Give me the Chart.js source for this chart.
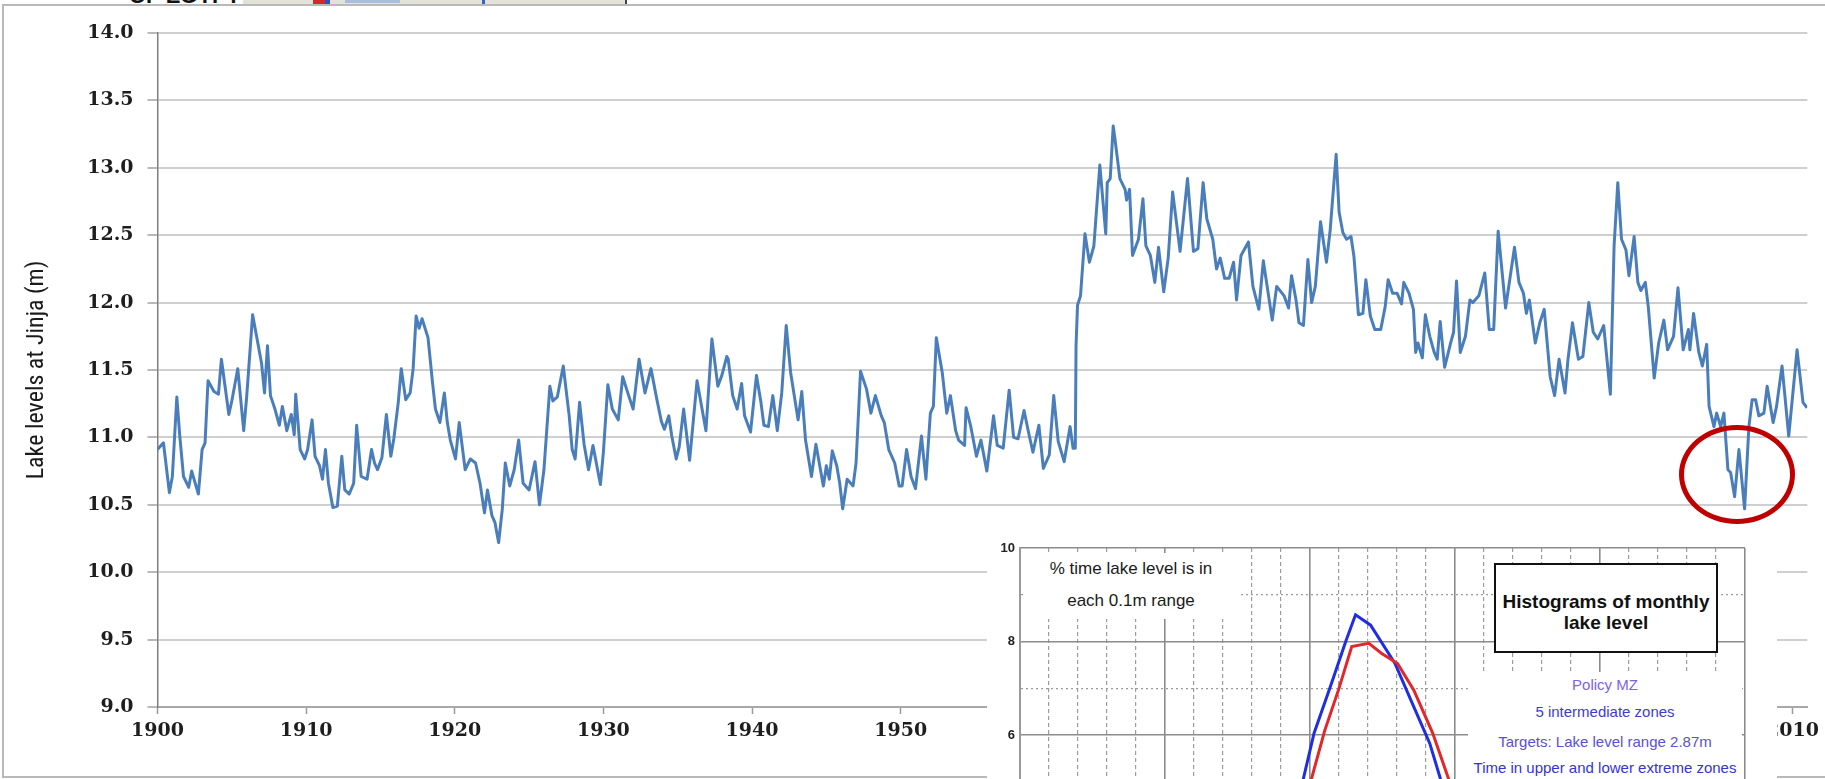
<!DOCTYPE html>
<html>
<head>
<meta charset="utf-8">
<script src="https://cdn.jsdelivr.net/npm/chart.js@4.4.1/dist/chart.umd.min.js"></script>
<style>
  html, body { margin: 0; padding: 0; background: #fff; width: 1825px; height: 779px; overflow: hidden; position: relative; }
  .abs { position: absolute; }
  #slideTitle { left: 129px; top: -15px; font: bold 22px 'Liberation Sans', Arial, sans-serif; line-height: 22px; color: #111; white-space: nowrap; }
  #mapStrip { left: 243px; top: 0; width: 382px; height: 4px; background: #e2e2d8; border-right: 2px solid #444; }
  #frame { left: 2px; top: 4px; width: 1860px; height: 774px; border: 2px solid #b9b9b9; box-sizing: border-box; }
  #main { left: 0; top: 0; background: transparent; }
  #inset { left: 987px; top: 533px; background: #fff; }
  .note { position: absolute; font-family: 'Liberation Sans', Arial, sans-serif; white-space: nowrap; text-align: center; }
  #rangeNote { left: 1024px; top: 553px; width: 214px; height: 66px; background: #fff; font-size: 17px; line-height: 32px; color: #1a1a1a; }
  #histBox { left: 1494px; top: 563px; width: 224px; height: 90px; border: 2px solid #111; box-sizing: border-box; background: #fff; font-weight: bold; font-size: 19px; line-height: 21px; padding-top: 26px; color: #111; }
  #policyBlock { left: 1468px; top: 672px; width: 274px; height: 120px; background: #fff; }
  .pline { position: absolute; left: 0; width: 274px; font-size: 15px; line-height: 20px; text-align: center; }
  #mark { left: 1679px; top: 425px; width: 116px; height: 99px; border: 5px solid #c00000; border-radius: 50%; box-sizing: border-box; }
</style>
</head>
<body>
<div id="slideTitle" class="abs">OF EGYPT</div>
<div id="mapStrip" class="abs"></div>
<div class="abs" style="left:313px;top:0;width:12px;height:4px;background:#d42a2a"></div>
<div class="abs" style="left:325px;top:0;width:5px;height:4px;background:#2b4fc9"></div>
<div class="abs" style="left:345px;top:0;width:55px;height:3px;background:#a9bedf"></div>
<div class="abs" style="left:482px;top:0;width:3px;height:4px;background:#3a5fcf"></div>
<div id="frame" class="abs"></div>
<canvas id="main" class="abs" width="1825" height="779"></canvas>
<canvas id="inset" class="abs" width="790" height="500"></canvas>
<div id="rangeNote" class="note">% time lake level is in<br>each 0.1m range</div>
<div id="histBox" class="note">Histograms of monthly<br>lake level</div>
<div id="policyBlock" class="abs">
  <div class="note pline" style="top:3px;color:#7f62e6">Policy MZ</div>
  <div class="note pline" style="top:30px;color:#3c3ccf">5 intermediate zones</div>
  <div class="note pline" style="top:60px;color:#5a50d6">Targets: Lake level range 2.87m</div>
  <div class="note pline" style="top:86px;color:#3434d4">Time in upper and lower extreme zones</div>
</div>
<div id="mark" class="abs"></div>
<script>
// Lake Victoria levels at Jinja, read per decade (decimal year, metres)
const years1900s = [1900.0,1900.4,1900.8,1901.0,1901.3,1901.5,1901.75,1902.1,1902.3,1902.75,1903.0,1903.2,1903.4,1903.8,1904.1,1904.3,1904.8,1905.0,1905.4,1905.8,1906.0,1906.4,1906.7,1907.0,1907.2,1907.4,1907.6,1907.9,1908.2,1908.4,1908.7,1909.0,1909.2,1909.3,1909.6,1909.9];
const levels1900s = [10.91,10.96,10.59,10.71,11.30,11.01,10.71,10.63,10.75,10.58,10.91,10.96,11.42,11.34,11.32,11.58,11.17,11.27,11.51,11.05,11.30,11.91,11.73,11.55,11.33,11.68,11.31,11.21,11.09,11.23,11.05,11.17,11.02,11.32,10.91,10.84];

const years1910s = [1910.1,1910.4,1910.6,1910.9,1911.1,1911.3,1911.5,1911.8,1912.1,1912.4,1912.6,1912.9,1913.2,1913.4,1913.7,1914.1,1914.4,1914.6,1914.8,1915.1,1915.4,1915.7,1915.9,1916.2,1916.4,1916.7,1917.0,1917.2,1917.4,1917.6,1917.8,1918.2,1918.5,1918.7,1919.0,1919.3,1919.5,1919.7];
const levels1910s = [10.91,11.13,10.86,10.79,10.69,10.91,10.66,10.48,10.49,10.86,10.61,10.58,10.66,11.09,10.71,10.69,10.91,10.81,10.76,10.85,11.17,10.86,10.99,11.26,11.51,11.28,11.33,11.51,11.90,11.81,11.88,11.74,11.41,11.21,11.11,11.33,11.11,10.98];

const years1920s = [1920.05,1920.3,1920.7,1921.05,1921.4,1921.7,1922.0,1922.2,1922.5,1922.7,1922.95,1923.2,1923.4,1923.7,1924.0,1924.3,1924.6,1925.0,1925.4,1925.7,1926.0,1926.4,1926.6,1926.9,1927.3,1927.7,1927.9,1928.1,1928.4,1928.7,1929.0,1929.3,1929.8];
const levels1920s = [10.84,11.11,10.76,10.84,10.81,10.66,10.44,10.61,10.42,10.37,10.22,10.47,10.81,10.64,10.76,10.98,10.66,10.61,10.82,10.50,10.76,11.38,11.27,11.30,11.53,11.16,10.91,10.84,11.26,10.95,10.76,10.94,10.65];

const years1930s = [1930.0,1930.3,1930.6,1931.0,1931.3,1931.7,1932.0,1932.4,1932.8,1933.2,1933.6,1933.9,1934.1,1934.4,1934.6,1934.9,1935.1,1935.4,1935.8,1936.3,1936.9,1937.3,1937.7,1937.97,1938.3,1938.4,1938.7,1939.0,1939.3,1939.5,1939.9];
const levels1930s = [10.89,11.39,11.21,11.13,11.45,11.31,11.21,11.58,11.33,11.51,11.28,11.12,11.06,11.16,11.01,10.84,10.93,11.21,10.83,11.42,11.05,11.73,11.38,11.46,11.60,11.58,11.31,11.21,11.40,11.16,11.04];

const years1940s = [1940.3,1940.6,1940.8,1941.1,1941.4,1941.7,1942.0,1942.3,1942.6,1943.1,1943.35,1943.6,1944.0,1944.3,1944.8,1945.0,1945.2,1945.4,1945.7,1945.9,1946.1,1946.4,1946.8,1947.0,1947.3,1947.7,1948.0,1948.3,1948.7,1948.9,1949.2,1949.6,1949.9];
const levels1940s = [11.46,11.26,11.09,11.08,11.31,11.05,11.33,11.83,11.48,11.13,11.34,10.98,10.71,10.95,10.64,10.79,10.69,10.90,10.79,10.66,10.47,10.69,10.64,10.81,11.49,11.36,11.18,11.31,11.16,11.11,10.91,10.81,10.64];

const years1950s = [1950.1,1950.4,1950.7,1951.0,1951.4,1951.7,1952.0,1952.2,1952.4,1952.8,1953.1,1953.35,1953.7,1953.9,1954.3,1954.4,1954.7,1955.1,1955.4,1955.8,1956.25,1956.5,1956.9,1957.3,1957.6,1957.9,1958.3,1958.6,1958.9,1959.3,1959.6];
const levels1950s = [10.64,10.91,10.71,10.62,11.01,10.69,11.18,11.23,11.74,11.48,11.18,11.31,11.05,10.98,10.94,11.22,11.09,10.86,10.98,10.75,11.16,10.94,10.92,11.35,11.00,10.99,11.20,11.04,10.89,11.09,10.77];

const years1960s = [1960.0,1960.3,1960.6,1961.0,1961.4,1961.6,1961.75,1961.8,1961.9,1962.1,1962.4,1962.7,1963.0,1963.4,1963.8,1963.9,1964.1,1964.3,1964.4,1964.75,1965.1,1965.2,1965.4,1965.6,1966.0,1966.3,1966.5,1966.8,1967.1,1967.35,1967.7,1968.0,1968.3,1968.8,1969.3,1969.7];
const levels1960s = [10.87,11.31,10.97,10.82,11.08,10.92,10.92,11.68,11.98,12.05,12.51,12.30,12.42,13.02,12.51,12.89,12.92,13.31,13.23,12.92,12.84,12.76,12.84,12.35,12.47,12.77,12.42,12.35,12.15,12.41,12.08,12.33,12.82,12.38,12.92,12.38];

const years1970s = [1970.0,1970.35,1970.6,1971.0,1971.25,1971.5,1971.8,1972.1,1972.4,1972.6,1972.9,1973.4,1973.7,1974.1,1974.4,1975.0,1975.3,1975.8,1976.1,1976.3,1976.6,1976.8,1977.1,1977.4,1977.65,1977.9,1978.25,1978.65,1978.9,1979.3,1979.5,1979.75];
const levels1970s = [12.40,12.89,12.62,12.47,12.25,12.33,12.18,12.18,12.30,12.02,12.35,12.45,12.12,11.95,12.31,11.87,12.12,12.05,11.96,12.20,12.02,11.85,11.83,12.32,12.00,12.12,12.60,12.30,12.54,13.10,12.67,12.52];

const years1980s = [1980.0,1980.3,1980.5,1980.8,1981.1,1981.3,1981.6,1981.9,1982.3,1982.6,1982.8,1983.1,1983.4,1983.7,1983.85,1984.2,1984.5,1984.65,1984.8,1985.1,1985.3,1985.6,1985.9,1986.1,1986.3,1986.6,1987.0,1987.2,1987.4,1987.65,1988.0,1988.3,1988.5,1988.9,1989.3,1989.6,1989.9];
const levels1980s = [12.47,12.49,12.34,11.91,11.92,12.17,11.90,11.80,11.80,11.97,12.17,12.07,12.07,11.99,12.15,12.07,11.95,11.63,11.70,11.59,11.91,11.75,11.63,11.58,11.86,11.52,11.70,11.78,12.16,11.63,11.75,12.02,12.00,12.05,12.22,11.80,11.80];

const years1990s = [1990.2,1990.7,1991.3,1991.6,1991.9,1992.1,1992.3,1992.7,1993.0,1993.3,1993.7,1994.0,1994.3,1994.7,1994.9,1995.2,1995.6,1995.9,1996.3,1996.6,1996.9,1997.3,1997.75,1998.0,1998.25,1998.5,1998.8,1999.0,1999.35,1999.6,1999.8];
const levels1990s = [12.53,11.96,12.41,12.15,12.07,11.92,12.02,11.70,11.85,11.95,11.45,11.31,11.58,11.33,11.58,11.85,11.58,11.60,12.00,11.78,11.73,11.83,11.32,12.42,12.89,12.47,12.39,12.20,12.49,12.15,12.09];

const years2000s = [2000.1,2000.3,2000.7,2001.0,2001.35,2001.6,2002.0,2002.3,2002.65,2003.0,2003.1,2003.35,2003.7,2003.94,2004.23,2004.39,2004.72,2004.9,2005.17,2005.39,2005.66,2005.84,2006.11,2006.4,2006.78,2007.07,2007.29,2007.52,2007.74,2008.08,2008.3,2008.7,2008.93,2009.3,2009.75,2010.31,2010.71,2010.98];
const levels2000s = [12.15,11.97,11.44,11.70,11.87,11.65,11.75,12.11,11.65,11.80,11.65,11.92,11.63,11.53,11.69,11.23,11.08,11.18,11.08,11.18,10.76,10.74,10.56,10.91,10.47,11.08,11.28,11.28,11.16,11.18,11.38,11.11,11.23,11.53,11.01,11.65,11.26,11.22];

// Axis tick values
const decadeTicks = [1900,1910,1920,1930,1940,1950,1960,1970,1980,1990,2000,2010];
const levelTicks = [9.0,9.5,10.0,10.5,11.0,11.5,12.0,12.5,13.0,13.5,14.0];

// Histogram of monthly lake level: bin position (0.1 m steps) and % of time
const redBins = [8.5,9.4,10.05,10.51,10.98,11.44,12.03,12.46,13.02,13.58,14.23,14.78,15.4,16.2,17.2];
const redPct  = [1.6,3.6,5.06,6.10,6.96,7.89,7.96,7.75,7.53,6.96,6.04,5.06,3.8,2.2,0.9];
const blueBins = [8.0,9.0,9.77,10.14,10.70,11.25,11.57,12.09,12.93,13.58,14.13,14.5,15.2,16.0,17.0];
const bluePct  = [1.6,3.6,5.06,6.04,7.03,8.03,8.57,8.35,7.53,6.60,5.82,5.06,3.8,2.2,0.9];

const years = [].concat(years1900s, years1910s, years1920s, years1930s, years1940s, years1950s, years1960s, years1970s, years1980s, years1990s, years2000s);
const levels = [].concat(levels1900s, levels1910s, levels1920s, levels1930s, levels1940s, levels1950s, levels1960s, levels1970s, levels1980s, levels1990s, levels2000s);

const tickFont = { family: "'DejaVu Serif', serif", weight: 'bold', size: 19 };

new Chart(document.getElementById('main'), {
  type: 'line',
  data: {
    datasets: [{
      data: years.map((y, i) => ({ x: y, y: levels[i] })),
      borderColor: '#4a7ebb',
      borderWidth: 3,
      borderJoinStyle: 'round',
      pointRadius: 0,
      tension: 0,
      fill: false
    }]
  },
  options: {
    responsive: false,
    animation: false,
    devicePixelRatio: 1,
    layout: { padding: { left: 23, right: 13, top: 33, bottom: 0 } },
    plugins: { legend: { display: false }, tooltip: { enabled: false } },
    scales: {
      x: {
        type: 'linear',
        min: 1900,
        max: 2011,
        afterBuildTicks: s => { s.ticks = decadeTicks.map(v => ({ value: v })); },
        afterFit: s => { s.height = 72; },
        ticks: { callback: v => String(v), font: tickFont, color: '#1e1e1e', padding: 6, maxRotation: 0, autoSkip: false },
        grid: { drawOnChartArea: false, drawTicks: true, tickLength: 7, tickColor: '#9a9a9a', tickWidth: 1.5 },
        border: { color: '#a8a8a8', width: 2 }
      },
      y: {
        min: 9,
        max: 14,
        afterBuildTicks: s => { s.ticks = levelTicks.map(v => ({ value: v })); },
        afterFit: s => { s.width = 134.5; },
        ticks: { callback: v => Number(v).toFixed(1), font: tickFont, color: '#1e1e1e', padding: 14 },
        grid: { color: '#cfcfcf', lineWidth: 2, tickLength: 10, tickColor: '#a0a0a0', tickWidth: 1.5 },
        border: { color: '#7f7f7f', width: 1.5 },
        title: {
          display: true,
          text: 'Lake levels at Jinja (m)',
          font: { family: "'Liberation Sans Narrow', 'Arial Narrow', 'Roboto Condensed', 'Liberation Sans', sans-serif", size: 24 },
          color: '#1a1a1a',
          padding: { top: 0, bottom: 0 }
        }
      }
    }
  }
});

new Chart(document.getElementById('inset'), {
  type: 'line',
  data: {
    datasets: [
      { data: redBins.map((b, i) => ({ x: b, y: redPct[i] })), borderColor: '#e3262a', borderWidth: 3, pointRadius: 0, tension: 0, fill: false },
      { data: blueBins.map((b, i) => ({ x: b, y: bluePct[i] })), borderColor: '#1f2ee0', borderWidth: 3, pointRadius: 0, tension: 0, fill: false }
    ]
  },
  options: {
    responsive: false,
    animation: false,
    devicePixelRatio: 1,
    layout: { padding: { left: 0, right: 32, top: 15, bottom: 0 } },
    plugins: { legend: { display: false }, tooltip: { enabled: false } },
    scales: {
      x: {
        type: 'linear',
        min: 0,
        max: 25,
        afterFit: s => { s.height = 17.5; },
        ticks: { stepSize: 1, display: false },
        grid: {
          drawTicks: false,
          color: c => (c.tick && c.tick.value % 5 === 0) ? '#8c8c8c' : '#9c9c9c',
          lineWidth: c => (c.tick && c.tick.value % 5 === 0) ? 1.6 : 1.2
        },
        border: { display: false, dash: c => (c.tick && c.tick.value % 5 !== 0) ? [4, 3] : [] }
      },
      y: {
        min: 0,
        max: 10,
        afterFit: s => { s.width = 33; },
        ticks: {
          stepSize: 1,
          callback: v => (v % 2 === 0 ? String(v) : ''),
          font: { family: "'Liberation Sans', Arial, sans-serif", weight: 'bold', size: 13 },
          color: '#222',
          padding: 5
        },
        grid: {
          drawTicks: false,
          color: c => (c.tick && c.tick.value % 2 === 0) ? '#8c8c8c' : '#9a9a9a',
          lineWidth: c => (c.tick && c.tick.value % 2 === 0) ? 1.6 : 1.3
        },
        border: { color: '#9a9a9a', width: 2, dash: c => (c.tick && c.tick.value % 2 !== 0) ? [2, 3] : [] }
      }
    }
  }
});
</script>
</body>
</html>
